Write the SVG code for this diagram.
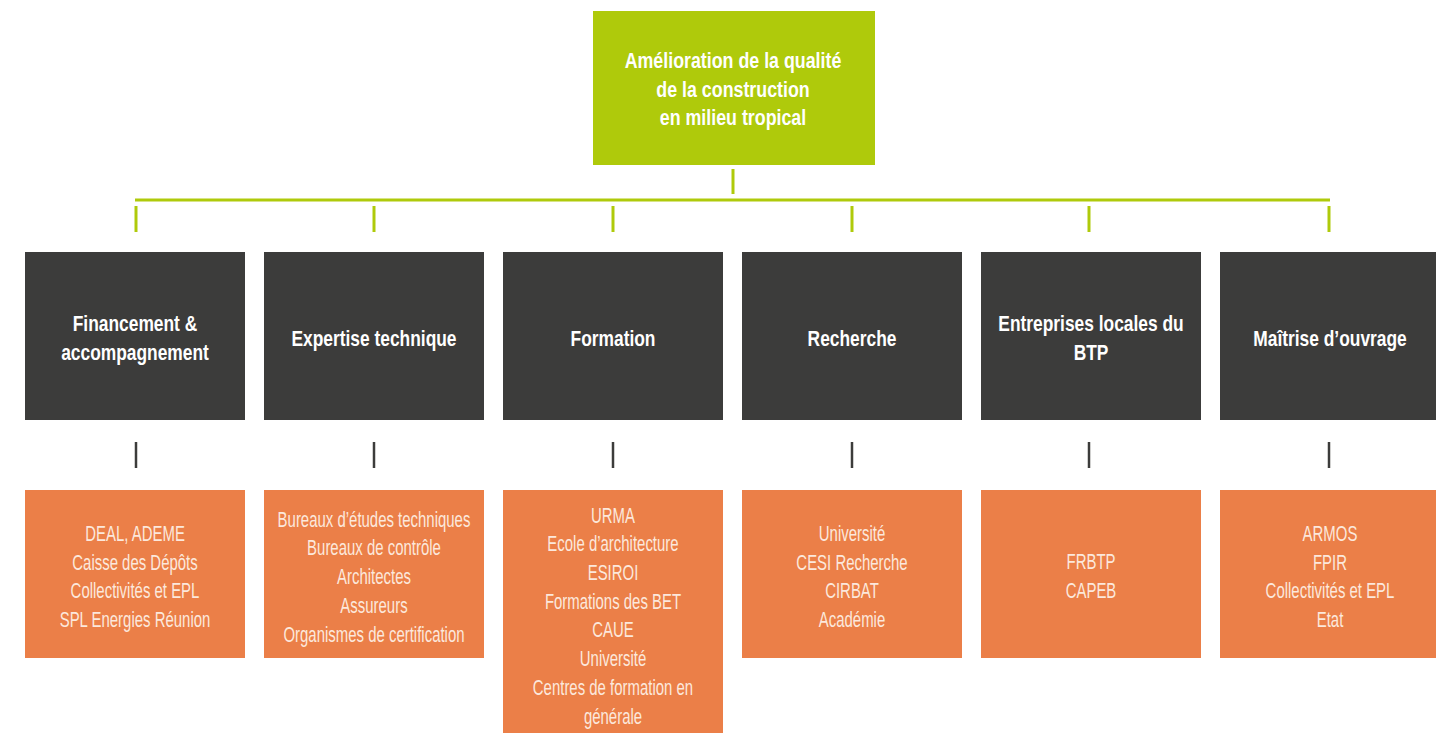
<svg xmlns="http://www.w3.org/2000/svg" width="1436" height="733" viewBox="0 0 1436 733">
<style>
.bg{fill:#ffffff}
.root{fill:#AFCA0B}
.cat{fill:#3C3C3B}
.leaf{fill:#EB7F48}
.t{font-family:"Liberation Sans",Arial,sans-serif;font-size:22px;text-anchor:middle}
.tb{font-weight:bold;fill:#ffffff}
.tl{fill:#FCE8DC}
.g{stroke:#AFCA0B;stroke-width:3;fill:none}
.d{stroke:#3C3C3B;stroke-width:2.5;fill:none}
</style>
<rect class="bg" x="0" y="0" width="1436" height="733"/>
<g id="connectors">
<line class="g" x1="733" y1="169" x2="733" y2="194"/>
<line class="g" x1="135" y1="200" x2="1330" y2="200"/>
<line class="g" x1="136" y1="206" x2="136" y2="232"/>
<line class="g" x1="374" y1="206" x2="374" y2="232"/>
<line class="g" x1="613" y1="206" x2="613" y2="232"/>
<line class="g" x1="852" y1="206" x2="852" y2="232"/>
<line class="g" x1="1089" y1="206" x2="1089" y2="232"/>
<line class="g" x1="1329" y1="206" x2="1329" y2="232"/>
<line class="d" x1="136" y1="442" x2="136" y2="468"/>
<line class="d" x1="374" y1="442" x2="374" y2="468"/>
<line class="d" x1="613" y1="442" x2="613" y2="468"/>
<line class="d" x1="852" y1="442" x2="852" y2="468"/>
<line class="d" x1="1089" y1="442" x2="1089" y2="468"/>
<line class="d" x1="1329" y1="442" x2="1329" y2="468"/>
</g>
<g id="root">
<rect class="root" x="593" y="11" width="282" height="154"/>
<text class="t tb" transform="translate(733,68) scale(0.81,1)">Amélioration de la qualité</text>
<text class="t tb" transform="translate(733,97) scale(0.81,1)">de la construction</text>
<text class="t tb" transform="translate(733,125) scale(0.81,1)">en milieu tropical</text>
</g>
<g id="cat1"><rect class="cat" x="25" y="252" width="220" height="168"/>
<text class="t tb" transform="translate(135,331) scale(0.79,1)">Financement &amp;</text>
<text class="t tb" transform="translate(135,360) scale(0.79,1)">accompagnement</text></g>
<g id="cat2"><rect class="cat" x="264" y="252" width="220" height="168"/>
<text class="t tb" transform="translate(374,346) scale(0.79,1)">Expertise technique</text></g>
<g id="cat3"><rect class="cat" x="503" y="252" width="220" height="168"/>
<text class="t tb" transform="translate(613,346) scale(0.79,1)">Formation</text></g>
<g id="cat4"><rect class="cat" x="742" y="252" width="220" height="168"/>
<text class="t tb" transform="translate(852,346) scale(0.79,1)">Recherche</text></g>
<g id="cat5"><rect class="cat" x="981" y="252" width="220" height="168"/>
<text class="t tb" transform="translate(1091,331) scale(0.79,1)">Entreprises locales du</text>
<text class="t tb" transform="translate(1091,360) scale(0.79,1)">BTP</text></g>
<g id="cat6"><rect class="cat" x="1220" y="252" width="220" height="168"/>
<text class="t tb" transform="translate(1330,346) scale(0.79,1)">Maîtrise d’ouvrage</text></g>
<g id="leaf1"><rect class="leaf" x="25" y="490" width="220" height="168"/>
<text class="t tl" transform="translate(135,541) scale(0.68,1)">DEAL, ADEME</text>
<text class="t tl" transform="translate(135,570) scale(0.68,1)">Caisse des Dépôts</text>
<text class="t tl" transform="translate(135,598) scale(0.68,1)">Collectivités et EPL</text>
<text class="t tl" transform="translate(135,627) scale(0.68,1)">SPL Energies Réunion</text></g>
<g id="leaf2"><rect class="leaf" x="264" y="490" width="220" height="168"/>
<text class="t tl" transform="translate(374,527) scale(0.68,1)">Bureaux d’études techniques</text>
<text class="t tl" transform="translate(374,555) scale(0.68,1)">Bureaux de contrôle</text>
<text class="t tl" transform="translate(374,584) scale(0.68,1)">Architectes</text>
<text class="t tl" transform="translate(374,613) scale(0.68,1)">Assureurs</text>
<text class="t tl" transform="translate(374,642) scale(0.68,1)">Organismes de certification</text></g>
<g id="leaf3"><rect class="leaf" x="503" y="490" width="220" height="243"/>
<text class="t tl" transform="translate(613,523) scale(0.68,1)">URMA</text>
<text class="t tl" transform="translate(613,551) scale(0.68,1)">Ecole d’architecture</text>
<text class="t tl" transform="translate(613,580) scale(0.68,1)">ESIROI</text>
<text class="t tl" transform="translate(613,609) scale(0.68,1)">Formations des BET</text>
<text class="t tl" transform="translate(613,637) scale(0.68,1)">CAUE</text>
<text class="t tl" transform="translate(613,666) scale(0.68,1)">Université</text>
<text class="t tl" transform="translate(613,695) scale(0.68,1)">Centres de formation en</text>
<text class="t tl" transform="translate(613,724) scale(0.68,1)">générale</text></g>
<g id="leaf4"><rect class="leaf" x="742" y="490" width="220" height="168"/>
<text class="t tl" transform="translate(852,541) scale(0.68,1)">Université</text>
<text class="t tl" transform="translate(852,570) scale(0.68,1)">CESI Recherche</text>
<text class="t tl" transform="translate(852,598) scale(0.68,1)">CIRBAT</text>
<text class="t tl" transform="translate(852,627) scale(0.68,1)">Académie</text></g>
<g id="leaf5"><rect class="leaf" x="981" y="490" width="220" height="168"/>
<text class="t tl" transform="translate(1091,569) scale(0.68,1)">FRBTP</text>
<text class="t tl" transform="translate(1091,598) scale(0.68,1)">CAPEB</text></g>
<g id="leaf6"><rect class="leaf" x="1220" y="490" width="220" height="168"/>
<text class="t tl" transform="translate(1330,541) scale(0.68,1)">ARMOS</text>
<text class="t tl" transform="translate(1330,570) scale(0.68,1)">FPIR</text>
<text class="t tl" transform="translate(1330,598) scale(0.68,1)">Collectivités et EPL</text>
<text class="t tl" transform="translate(1330,627) scale(0.68,1)">Etat</text></g>
</svg>
